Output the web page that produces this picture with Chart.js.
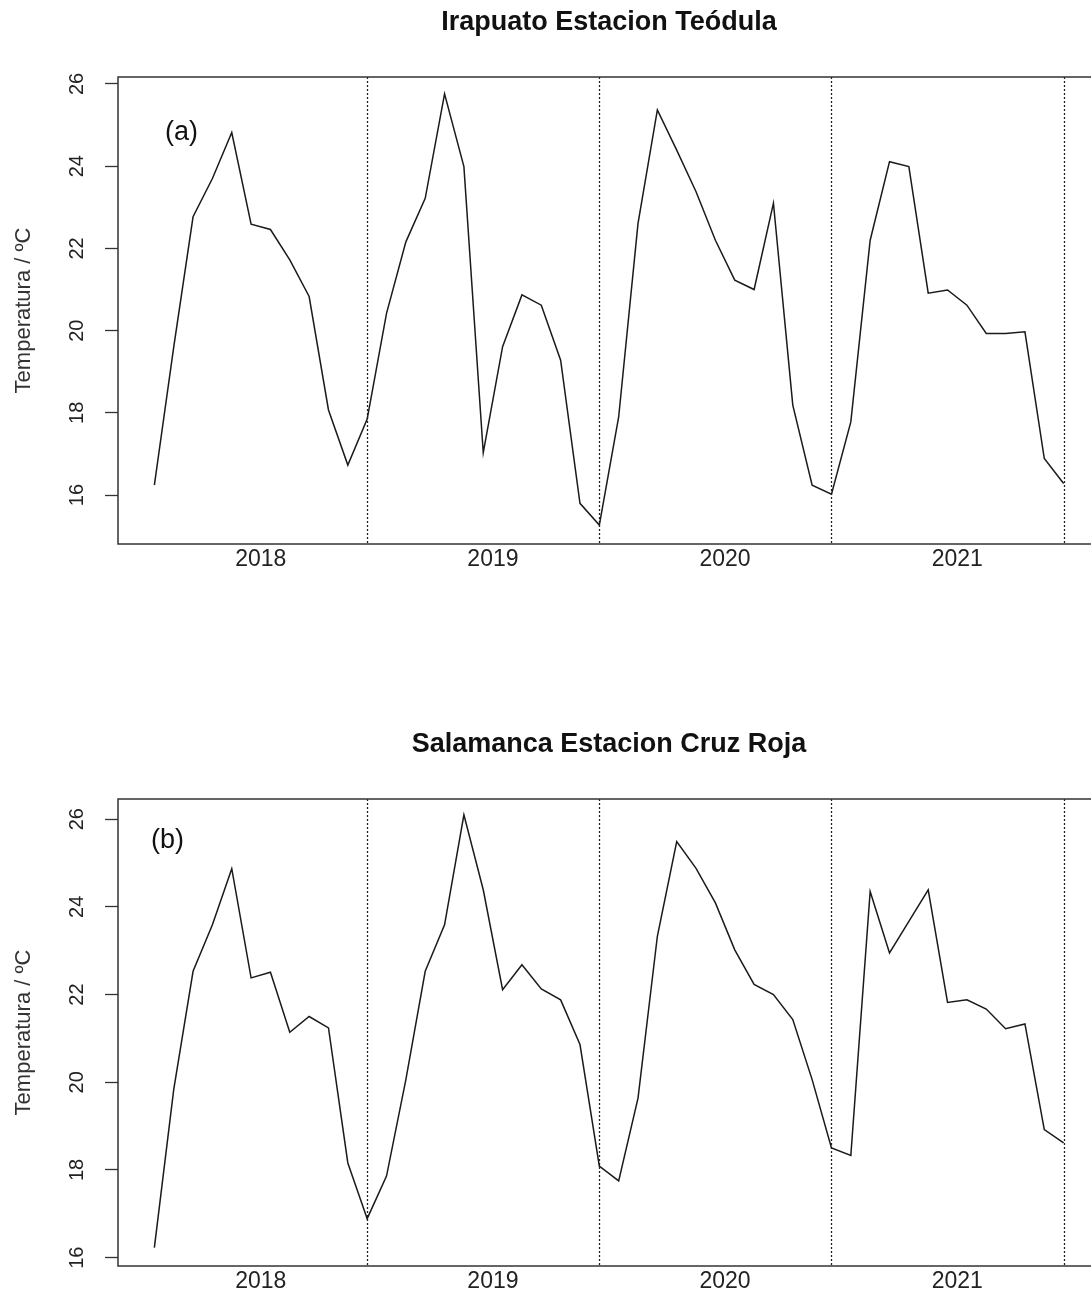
<!DOCTYPE html>
<html>
<head>
<meta charset="utf-8">
<script src="https://cdn.jsdelivr.net/npm/chart.js@4.4.0/dist/chart.umd.min.js"></script>
<style>
  html, body { margin: 0; padding: 0; background: #fff; overflow: hidden; }
  .panel { position: absolute; left: 0; }
</style>
</head>
<body>
<div class="panel" style="top:0px"><canvas id="chartA" width="1110" height="600"></canvas></div>
<div class="panel" style="top:722px"><canvas id="chartB" width="1110" height="600"></canvas></div>
<script>
// monthly mean temperature, Jan 2018 .. Dec 2021 (x = month index)
const yearLabels = ['2018', '2019', '2020', '2021'];
const yearCenters = [5.5, 17.5, 29.5, 41.5];
const yearBreaks = [11, 23, 35, 47];
const yTicks = [16, 18, 20, 22, 24, 26];

const irapuato = [16.24, 19.6, 22.77, 23.70, 24.82, 22.59, 22.46, 21.72, 20.83, 18.07, 16.73, 17.85,
  20.42, 22.16, 23.22, 25.76, 23.99, 17.03, 19.61, 20.87, 20.62, 19.28, 15.80, 15.27,
  17.90, 22.61, 25.37, 24.39, 23.38, 22.20, 21.23, 21.00, 23.10, 18.19, 16.24, 16.02,
  17.78, 22.20, 24.11, 23.99, 20.91, 20.99, 20.62, 19.93, 19.93, 19.97, 16.89, 16.28];

const salamanca = [16.23, 19.83, 22.53, 23.59, 24.87, 22.38, 22.51, 21.14, 21.50, 21.24, 18.16, 16.89,
  17.86, 20.06, 22.53, 23.59, 26.10, 24.39, 22.11, 22.68, 22.13, 21.88, 20.86, 18.09,
  17.75, 19.64, 23.33, 25.49, 24.88, 24.09, 23.02, 22.23, 22.00, 21.43, 20.06, 18.50,
  18.33, 24.35, 22.95, 23.67, 24.39, 21.82, 21.88, 21.67, 21.22, 21.33, 18.92, 18.62];

const FONT = '"Liberation Sans", Arial, sans-serif';
Chart.defaults.font.family = FONT;
Chart.defaults.color = '#222';

const framePlugin = {
  id: 'frame',
  beforeDatasetsDraw(chart) {
    const { ctx, chartArea: a, scales } = chart;
    ctx.save();
    ctx.strokeStyle = '#222';
    ctx.lineWidth = 1.3;
    ctx.setLineDash([2, 2]);
    yearBreaks.forEach(v => {
      const x = Math.round(scales.x.getPixelForValue(v)) + 0.5;
      ctx.beginPath();
      ctx.moveTo(x, a.top);
      ctx.lineTo(x, a.bottom);
      ctx.stroke();
    });
    ctx.restore();
  },
  afterDatasetsDraw(chart, args, opts) {
    const { ctx, chartArea: a, scales } = chart;
    ctx.save();
    ctx.strokeStyle = '#333';
    ctx.lineWidth = 1.5;
    ctx.strokeRect(a.left, a.top, a.right - a.left, a.bottom - a.top);

    // y tick labels, rotated like base R
    ctx.fillStyle = '#222';
    ctx.font = '20px ' + FONT;
    ctx.textAlign = 'center';
    ctx.textBaseline = 'middle';
    yTicks.forEach(v => {
      const y = scales.y.getPixelForValue(v);
      ctx.save();
      ctx.translate(77, y);
      ctx.rotate(-Math.PI / 2);
      ctx.fillText(String(v), 0, 0);
      ctx.restore();
    });

    // panel tag
    ctx.font = '27px ' + FONT;
    ctx.textAlign = 'left';
    ctx.fillStyle = '#111';
    ctx.fillText(opts.tag, a.left + opts.dx, a.top + opts.dy);
    ctx.restore();
  }
};

function makeChart(id, title, values, yMin, yMax, tag) {
  const ctx = document.getElementById(id).getContext('2d');
  return new Chart(ctx, {
    type: 'line',
    data: {
      datasets: [{
        data: values.map((v, i) => ({ x: i, y: v })),
        borderColor: '#1a1a1a',
        borderWidth: 1.5,
        pointRadius: 0,
        tension: 0,
        fill: false
      }]
    },
    options: {
      responsive: false,
      animation: false,
      layout: { padding: { left: 0, right: 10, top: 0, bottom: 0 } },
      plugins: {
        legend: { display: false },
        tooltip: { enabled: false },
        title: {
          display: true,
          text: title,
          fullSize: false,
          color: '#111',
          font: { size: 27, weight: 'bold', family: FONT },
          padding: { top: 6, bottom: 38.6 }
        },
        frame: tag
      },
      scales: {
        x: {
          type: 'linear',
          min: -1.88,
          max: 48.88,
          afterBuildTicks: s => { s.ticks = yearCenters.map(v => ({ value: v })); },
          afterFit: s => { s.height = 56; },
          grid: { display: false },
          border: { display: false },
          ticks: {
            padding: -6,
            font: { size: 23 },
            color: '#222',
            maxRotation: 0,
            callback: (value, index) => yearLabels[index]
          }
        },
        y: {
          min: yMin,
          max: yMax,
          afterBuildTicks: s => { s.ticks = yTicks.map(v => ({ value: v })); },
          afterFit: s => { s.width = 118; },
          border: { display: false },
          grid: {
            drawOnChartArea: false,
            drawTicks: true,
            tickLength: 13,
            tickColor: '#333',
            tickWidth: 1.3
          },
          ticks: { display: false },
          title: {
            display: true,
            text: 'Temperatura / ºC',
            color: '#333',
            font: { size: 22 },
            padding: { top: 11, bottom: 0 }
          }
        }
      }
    },
    plugins: [framePlugin]
  });
}

makeChart('chartA', 'Irapuato Estacion Teódula', irapuato, 14.81, 26.17, { tag: '(a)', dx: 47, dy: 56 });
makeChart('chartB', 'Salamanca Estacion Cruz Roja', salamanca, 15.81, 26.46, { tag: '(b)', dx: 33, dy: 42 });
</script>
</body>
</html>
